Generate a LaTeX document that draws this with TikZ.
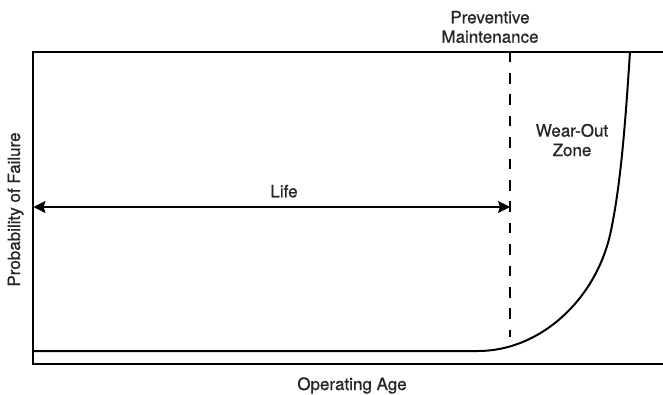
\documentclass[tikz,border=0pt]{standalone}
\usepackage{fontspec}
\setmainfont{TeX Gyre Heros}
\newfontfamily\lblfont{TeX Gyre Heros}[FakeBold=0.7]
\usetikzlibrary{arrows.meta}
\begin{document}
\begin{tikzpicture}[x=1pt,y=-1pt,
  lbl/.style={font=\lblfont\fontsize{17}{19.4}\selectfont, text=black!85, inner sep=0pt, align=center},
  frame/.style={line width=2pt},
  rel/.style={line width=2pt},
  pm/.style={line width=2pt, dash pattern=on 10.7pt off 10.7pt},
  span/.style={line width=1.6pt,
    {Stealth[length=12pt,width=12pt,inset=2pt]}-{Stealth[length=12pt,width=12pt,inset=2pt]}}]
\useasboundingbox (0,0) rectangle (663,394);

% axes (open on the right)
\draw[frame] (663,51.5) -- (32.5,51.5) -- (32.5,364) -- (663,364);

% reliability curve: flat, then wear-out rise
\draw[rel] (32.5,351) -- (478,351)
  .. controls (540,351) and (595,300) .. (610,235)
  .. controls (620,190) and (625,130) .. (630,51.5);

% preventive maintenance marker
\coordinate (pmtop) at (510,51.5);
\coordinate (pmbot) at (510,337);
\draw[pm] (pmtop) -- (pmbot);

% life span
\coordinate (lifeL) at (33.5,207);
\coordinate (lifeR) at (510,207);
\draw[span] (lifeL) -- (lifeR);

% labels (base anchor = baseline of the last line)
\node[lbl, anchor=base] (pmlabel) at (490,42.7) {Preventive\\Maintenance};
\node[lbl, anchor=base] (wzlabel) at (572,156) {Wear-Out\\Zone};
\node[lbl, anchor=base] (lifelabel) at (284,197.3) {Life};
\node[lbl, anchor=base] (agelabel) at (352,390) {Operating Age};
\node[lbl, anchor=base, rotate=90] (poflabel) at (20,209.5) {Probability of Failure};
\end{tikzpicture}
\end{document}
